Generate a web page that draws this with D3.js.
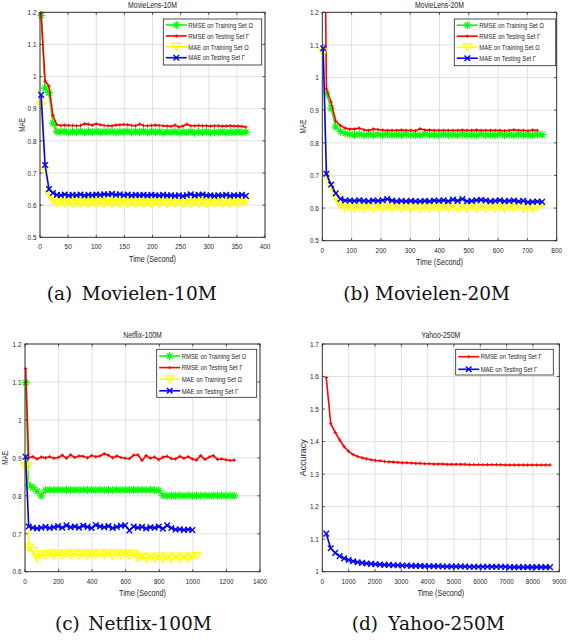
<!DOCTYPE html>
<html><head><meta charset="utf-8">
<script src="https://cdn.jsdelivr.net/npm/d3@7"></script>
<style>body{margin:0;background:#fff}svg{display:block}</style>
</head><body>
<svg id="c" width="579" height="641"></svg>
<script>
// ---------------- DATA ----------------
const panelTitles = ["MovieLens-10M", "MovieLens-20M", "Netflix-100M", "Yahoo-250M"];
const captionIds = ["(a)", "(b)", "(c)", "(d)"];
const captionNames = ["Movielen-10M", "Movielen-20M", "Netflix-100M", "Yahoo-250M"];
const yLabels = ["MAE", "MAE", "MAE", "Accuracy"];
const xLabel = "Time (Second)";
const seriesNames = ["RMSE on Training Set \u03A9", "RMSE on Testing Set \u0393", "MAE on Training Set \u03A9", "MAE on Testing Set \u0393"];

const xDomA = [0, 400], xDomB = [0, 800], xDomC = [0, 1400], xDomD = [0, 9000];
const yDomAB = [0.5, 1.2], yDomC = [0.6, 1.2], yDomD = [1.0, 1.7];
const xTicksA = [0, 50, 100, 150, 200, 250, 300, 350, 400];
const xTicksB = [0, 100, 200, 300, 400, 500, 600, 700, 800];
const xTicksC = [0, 200, 400, 600, 800, 1000, 1200, 1400];
const xTicksD = [0, 1000, 2000, 3000, 4000, 5000, 6000, 7000, 8000, 9000];
const yTicksAB = [0.5, 0.6, 0.7, 0.8, 0.9, 1.0, 1.1, 1.2];
const yTicksC = [0.6, 0.7, 0.8, 0.9, 1.0, 1.1, 1.2];
const yTicksD = [1.0, 1.1, 1.2, 1.3, 1.4, 1.5, 1.6, 1.7];

// (a) MovieLens-10M
const timeA = [2,9,16,23,30,37,44,51,58,65,72,79,86,93,100,107,114,121,128,135,142,149,156,163,170,177,184,191,198,205,212,219,226,233,240,247,254,261,268,275,282,289,296,303,310,317,324,331,338,345,352,359,366];
const a_rmseTrain = [1.190,0.964,0.950,0.855,0.829,
  0.828,0.830,0.826,0.829,0.827,
  0.830,0.826,0.829,0.827,0.830,0.826,0.829,0.827,0.830,0.826,
  0.829,0.827,0.830,0.826,0.829,0.827,0.830,0.826,0.829,0.827,
  0.829,0.825,0.828,0.826,0.829,0.825,0.828,0.826,0.829,0.825,
  0.828,0.826,0.829,0.825,0.828,0.826,0.829,0.825,0.828,0.826,
  0.829,0.826,0.828];
const a_rmseTest = [1.197,0.986,0.970,0.879,0.850,
  0.848,0.849,0.848,0.848,0.847,
  0.848,0.853,0.852,0.849,0.853,0.850,0.848,0.847,0.847,0.849,
  0.850,0.851,0.850,0.848,0.847,0.852,0.848,0.847,0.848,0.849,
  0.848,0.847,0.846,0.845,0.849,0.843,0.846,0.852,0.847,0.847,
  0.848,0.847,0.847,0.846,0.847,0.847,0.846,0.846,0.847,0.846,
  0.846,0.845,0.843];
const a_maeTrain = [0.910,0.709,0.634,0.615,0.606,
  0.609,0.604,0.609,0.604,0.609,
  0.604,0.609,0.604,0.609,0.604,0.609,0.604,0.609,0.604,0.609,
  0.604,0.609,0.604,0.609,0.604,0.609,0.604,0.609,0.604,0.609,
  0.604,0.609,0.604,0.609,0.604,0.609,0.604,0.609,0.604,0.609,
  0.604,0.609,0.604,0.609,0.604,0.609,0.604,0.609,0.604,0.609,
  0.604,0.609,0.612];
const a_maeTest = [0.943,0.725,0.650,0.638,0.632,
  0.631,0.633,0.630,0.632,0.631,
  0.633,0.630,0.632,0.631,0.633,0.632,0.634,0.633,0.635,0.632,
  0.634,0.631,0.633,0.630,0.632,0.631,0.632,0.630,0.632,0.631,
  0.630,0.632,0.630,0.631,0.629,0.631,0.628,0.631,0.634,0.630,
  0.632,0.633,0.630,0.631,0.629,0.631,0.630,0.632,0.629,0.631,
  0.630,0.632,0.629];

// (b) MovieLens-20M
const timeB = [3,14,30,46,62,78,94,110,126,142,158,174,190,206,222,238,254,270,286,302,318,334,350,366,382,398,414,430,446,462,478,494,510,526,542,558,574,590,606,622,638,654,670,686,702,718,734,750];
const b_rmseTrain = [null,0.952,0.906,0.849,0.835,0.829,0.826,0.824,0.826,0.823,
  0.826,0.824,0.826,0.823,0.826,0.824,0.825,0.823,0.826,0.824,
  0.825,0.823,0.826,0.824,0.825,0.823,0.826,0.824,0.825,0.823,
  0.826,0.824,0.825,0.823,0.826,0.824,0.825,0.823,0.826,0.824,
  0.825,0.823,0.826,0.824,0.825,0.823,0.826,0.825];
const b_rmseTest = [2.000,0.965,0.925,0.866,0.853,0.845,0.842,0.842,0.845,0.840,
  0.838,0.842,0.841,0.839,0.838,0.838,0.838,0.839,0.838,0.838,
  0.837,0.843,0.839,0.839,0.838,0.838,0.838,0.838,0.838,0.838,
  0.839,0.838,0.838,0.839,0.838,0.838,0.838,0.838,0.838,0.837,
  0.838,0.840,0.838,0.838,0.837,0.839,0.838,null];
const b_maeTrain = [1.077,0.695,0.665,0.633,0.608,0.600,0.603,0.599,0.603,0.599,
  0.603,0.599,0.603,0.599,0.603,0.599,0.603,0.599,0.603,0.599,
  0.603,0.599,0.603,0.599,0.603,0.599,0.603,0.599,0.603,0.599,
  0.603,0.599,0.603,0.599,0.603,0.599,0.603,0.599,0.603,0.599,
  0.603,0.599,0.603,0.599,0.603,0.599,0.603,0.610];
const b_maeTest = [1.090,0.705,0.672,0.645,0.628,0.623,0.623,0.622,0.624,0.622,
  0.621,0.623,0.622,0.624,0.628,0.623,0.621,0.622,0.621,0.622,
  0.621,0.621,0.622,0.621,0.623,0.622,0.624,0.621,0.626,0.622,
  0.628,0.621,0.622,0.624,0.625,0.623,0.621,0.622,0.624,0.621,
  0.622,0.623,0.620,0.622,0.618,0.619,0.620,0.619];

// (c) Netflix-100M
const timeC = [0,4,15,22,47,72,97,122,147,172,197,222,247,272,297,322,347,372,397,422,447,472,497,522,547,572,597,622,647,672,697,722,747,772,797,822,847,872,897,922,947,972,997,1022,1047,1072,1097,1122,1147,1172,1197,1222,1247];
const c_rmseTrain = [null,1.098,null,0.828,0.822,0.812,0.800,0.815,0.816,0.815,
  0.816,0.815,0.816,0.815,0.816,0.815,0.816,0.815,0.816,0.815,
  0.816,0.815,0.816,0.815,0.816,0.815,0.816,0.815,0.816,0.815,
  0.816,0.815,0.816,0.815,0.814,
  0.801,0.800,0.801,0.800,0.801,0.800,0.801,0.800,0.801,0.800,0.801,0.800,0.801,0.800,0.801,0.800,0.801,0.800];
const c_rmseTest = [null,1.135,null,0.900,0.903,0.897,0.902,0.900,0.903,0.899,
  0.901,0.907,0.899,0.908,0.901,0.905,0.904,0.900,0.906,0.903,
  0.905,0.911,0.907,0.900,0.905,0.901,0.899,0.898,0.907,0.908,
  0.893,0.906,0.899,0.902,0.895,0.902,0.904,0.898,0.897,0.904,
  0.899,0.903,0.897,0.894,0.906,0.896,0.902,0.906,0.896,0.897,
  0.895,0.893,0.894];
const c_maeTrain = [0.877,null,0.877,0.664,0.655,0.636,0.646,0.643,0.648,0.643,
  0.648,0.643,0.648,0.643,0.648,0.643,0.648,0.643,0.648,0.643,
  0.648,0.643,0.648,0.643,0.648,0.643,0.648,0.643,0.648,0.636,
  0.640,0.634,0.640,0.634,0.640,0.634,0.640,0.634,0.640,0.634,
  0.640,0.634,0.640,0.642,null,null,null,null,null,null,null,null,null];
const c_maeTest = [null,0.903,null,0.719,0.716,0.714,0.716,0.718,0.715,0.717,
  0.720,0.716,0.722,0.717,0.719,0.716,0.721,0.718,0.715,0.723,
  0.719,0.717,0.720,0.715,0.718,0.721,0.722,0.709,0.719,0.716,
  0.718,0.714,0.717,0.716,0.719,0.713,0.722,0.715,0.711,0.712,
  0.710,0.711,0.710,null,null,null,null,null,null,null,null,null,null];

// (d) Yahoo-250M
const timeD = [150,320,490,660,830,1000,1170,1340,1510,1680,1850,2020,2190,2360,2530,2700,2870,3040,3210,3380,3550,3720,3890,4060,4230,4400,4570,4740,4910,5080,5250,5420,5590,5760,5930,6100,6270,6440,6610,6780,6950,7120,7290,7460,7630,7800,7970,8140,8310,8480,8650];
const d_rmseTest = [1.597,1.455,1.428,1.405,1.384,1.370,1.360,1.354,1.350,1.347,
  1.344,1.342,1.341,1.339,1.338,1.337,1.336,1.335,1.335,1.334,
  1.333,1.333,1.332,1.332,1.331,1.331,1.331,1.330,1.330,1.330,
  1.330,1.330,1.329,1.329,1.329,1.329,1.329,1.329,1.329,1.329,
  1.328,1.328,1.328,1.328,1.328,1.328,1.328,1.328,1.328,1.328,
  1.328];
const d_maeTest = [1.117,1.072,1.058,1.048,1.041,1.036,1.032,1.029,1.027,1.025,
  1.024,1.023,1.022,1.021,1.021,1.020,1.020,1.019,1.019,1.018,
  1.018,1.018,1.017,1.017,1.017,1.017,1.016,1.016,1.016,1.016,
  1.016,1.016,1.015,1.015,1.015,1.015,1.015,1.015,1.015,1.015,
  1.015,1.014,1.014,1.014,1.014,1.014,1.014,1.014,1.014,1.014,
  1.014];

const charts = [
  {title: panelTitles[0], xDom: xDomA, yDom: yDomAB, xTicks: xTicksA, yTicks: yTicksAB, ylabel: yLabels[0], time: timeA,
   series: [[0, a_rmseTrain], [1, a_rmseTest], [2, a_maeTrain], [3, a_maeTest]]},
  {title: panelTitles[1], xDom: xDomB, yDom: yDomAB, xTicks: xTicksB, yTicks: yTicksAB, ylabel: yLabels[1], time: timeB,
   series: [[0, b_rmseTrain], [1, b_rmseTest], [2, b_maeTrain], [3, b_maeTest]]},
  {title: panelTitles[2], xDom: xDomC, yDom: yDomC, xTicks: xTicksC, yTicks: yTicksC, ylabel: yLabels[2], time: timeC,
   series: [[0, c_rmseTrain], [1, c_rmseTest], [2, c_maeTrain], [3, c_maeTest]]},
  {title: panelTitles[3], xDom: xDomD, yDom: yDomD, xTicks: xTicksD, yTicks: yTicksD, ylabel: yLabels[3], time: timeD,
   series: [[1, d_rmseTest], [3, d_maeTest]]}
];

// ---------------- LAYOUT / STYLE ----------------
const layout = [
  {box: [40, 12.3, 265, 237.3], leg: [163.3, 19, 261.7, 65], row0: 6, gap: 10.9, ylabX: 21.7, ylab: [8.5, 0.75], titleY: 5, cap: [46.7, 81.7, 299.5]},
  {box: [322.3, 12.3, 556.7, 240.7], leg: [454.3, 19, 555.7, 65.7], row0: 6.2, gap: 11, ylabX: 302.7, ylab: [8.5, 0.75], titleY: 5, cap: [343.3, 375, 300]},
  {box: [25, 344, 260, 571.7], leg: [156.7, 349.3, 256.7, 397.3], row0: 6.7, gap: 11.6, ylabX: 5.5, ylab: [8.5, 0.75], titleY: 335, cap: [55, 88.3, 630]},
  {box: [322.3, 344, 559.3, 571.7], leg: [455.7, 349.3, 553.3, 375], row0: 7.4, gap: 12.6, ylabX: 303.3, ylab: [9, 1.0], titleY: 335, cap: [351.7, 388.3, 630]}
];
const colors = ["#00ff00", "#ff0000", "#ffff00", "#0000ff"];
const markerPaths = [
  "M-4,0H4M0,-4V4M-2.8,-2.8L2.8,2.8M-2.8,2.8L2.8,-2.8",
  "M-1.7,0H1.7M0,-1.7V1.7",
  "M-4.3,-3.4L4.3,-3.4L0,3.6Z",
  "M-2.8,-2.8L2.8,2.8M-2.8,2.8L2.8,-2.8"
];
const markerWidths = [1.2, 1.0, 1.2, 1.4];
const SANS = "'Liberation Sans', Arial, Helvetica, sans-serif";
const AX = "#262626";
const SX = 0.8;

const svg = d3.select("#c");

function txt(g, x, y, s, o) {
  o = o || {};
  return g.append("text")
    .attr("transform", `translate(${x},${y}) rotate(${o.rot || 0}) scale(${o.sx == null ? SX : o.sx},1)`)
    .attr("text-anchor", o.anchor || "middle")
    .attr("dominant-baseline", o.base || "central")
    .attr("font-family", o.family || SANS)
    .attr("font-size", o.size || 8)
    .attr("fill", o.fill || AX)
    .text(s);
}

charts.forEach((ch, pi) => {
  const L = layout[pi];
  const [x0, y0, x1, y1] = L.box;
  const g = svg.append("g");
  const x = d3.scaleLinear().domain(ch.xDom).range([x0, x1]);
  const y = d3.scaleLinear().domain(ch.yDom).range([y1, y0]);

  g.append("rect").attr("x", x0).attr("y", y0).attr("width", x1 - x0).attr("height", y1 - y0).attr("fill", "#fff");
  g.selectAll(".gx").data(ch.xTicks).enter().append("line")
    .attr("x1", d => x(d)).attr("x2", d => x(d)).attr("y1", y0).attr("y2", y1)
    .attr("stroke", "#e0e0e0").attr("stroke-width", 1);
  g.selectAll(".gy").data(ch.yTicks).enter().append("line")
    .attr("y1", d => y(d)).attr("y2", d => y(d)).attr("x1", x0).attr("x2", x1)
    .attr("stroke", "#e0e0e0").attr("stroke-width", 1);

  const cid = "clip" + pi;
  svg.append("clipPath").attr("id", cid).append("rect")
    .attr("x", x0).attr("y", y0).attr("width", x1 - x0).attr("height", y1 - y0);

  ch.series.forEach(([si, vals]) => {
    const pts = ch.time.map((t, i) => [t, vals[i]]).filter(p => p[1] != null);
    const line = d3.line().x(p => x(p[0])).y(p => y(p[1]));
    g.append("path").attr("d", line(pts)).attr("fill", "none")
      .attr("stroke", colors[si]).attr("stroke-width", 1.6).attr("stroke-linejoin", "round")
      .attr("clip-path", `url(#${cid})`);
    const vis = pts.filter(p => p[1] >= ch.yDom[0] && p[1] <= ch.yDom[1]);
    g.append("g").selectAll("path").data(vis).enter().append("path")
      .attr("transform", p => `translate(${x(p[0])},${y(p[1])})`)
      .attr("d", markerPaths[si]).attr("fill", "none")
      .attr("stroke", colors[si]).attr("stroke-width", markerWidths[si]);
  });

  const tl = 2.5;
  g.append("rect").attr("x", x0).attr("y", y0).attr("width", x1 - x0).attr("height", y1 - y0)
    .attr("fill", "none").attr("stroke", AX).attr("stroke-width", 0.9);
  ch.xTicks.forEach(d => {
    g.append("line").attr("x1", x(d)).attr("x2", x(d)).attr("y1", y1).attr("y2", y1 - tl).attr("stroke", AX).attr("stroke-width", 0.8);
    g.append("line").attr("x1", x(d)).attr("x2", x(d)).attr("y1", y0).attr("y2", y0 + tl).attr("stroke", AX).attr("stroke-width", 0.8);
    txt(g, x(d), y1 + 9.3, String(d));
  });
  ch.yTicks.forEach(d => {
    g.append("line").attr("x1", x0).attr("x2", x0 + tl).attr("y1", y(d)).attr("y2", y(d)).attr("stroke", AX).attr("stroke-width", 0.8);
    g.append("line").attr("x1", x1).attr("x2", x1 - tl).attr("y1", y(d)).attr("y2", y(d)).attr("stroke", AX).attr("stroke-width", 0.8);
    txt(g, x0 - 3.5, y(d), d3.format("~g")(d), {anchor: "end"});
  });

  txt(g, (x0 + x1) / 2, L.titleY, ch.title, {size: 8.6});
  txt(g, (x0 + x1) / 2, y1 + 21.5, xLabel, {size: 9});
  txt(g, L.ylabX, (y0 + y1) / 2, ch.ylabel, {rot: -90, size: L.ylab[0], sx: L.ylab[1]});

  const [lx0, ly0, lx1, ly1] = L.leg;
  g.append("rect").attr("x", lx0).attr("y", ly0).attr("width", lx1 - lx0).attr("height", ly1 - ly0)
    .attr("fill", "#fff").attr("stroke", AX).attr("stroke-width", 0.8);
  ch.series.forEach(([si], k) => {
    const ry = ly0 + L.row0 + k * L.gap;
    g.append("line").attr("x1", lx0 + 2.5).attr("x2", lx0 + 23.5).attr("y1", ry).attr("y2", ry)
      .attr("stroke", colors[si]).attr("stroke-width", 1.6);
    g.append("path").attr("transform", `translate(${lx0 + 13},${ry})`).attr("d", markerPaths[si])
      .attr("fill", "none").attr("stroke", colors[si]).attr("stroke-width", markerWidths[si]);
    txt(g, lx0 + 25, ry, seriesNames[si], {anchor: "start", size: 7.4});
  });

  const [cx1, cx2, cy] = L.cap;
  const cf = "'DejaVu Serif', 'Liberation Serif', serif";
  svg.append("text").attr("x", cx1).attr("y", cy).attr("font-family", cf).attr("font-size", 18.5)
    .attr("fill", "#111").text(captionIds[pi]);
  svg.append("text").attr("x", cx2).attr("y", cy).attr("font-family", cf).attr("font-size", 18.5)
    .attr("fill", "#111").text(captionNames[pi]);
});
</script>
</body></html>
